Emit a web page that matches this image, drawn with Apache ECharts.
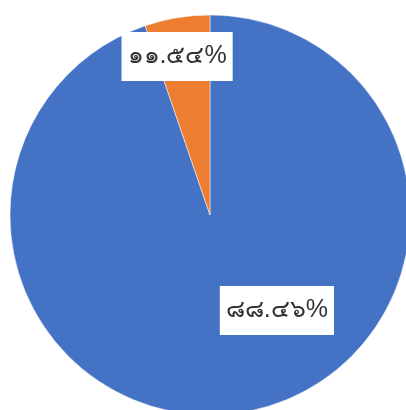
<!DOCTYPE html>
<html>
<head>
<meta charset="utf-8">
<style>
  html, body { margin: 0; padding: 0; background: #fff; }
  #main { width: 406px; height: 410px; }
</style>
<script src="https://cdn.jsdelivr.net/npm/echarts@6/dist/echarts.min.js"></script>
</head>
<body>
<div id="main"></div>
<script>
// slice shares as drawn, and the label texts printed on them
const names = ['A', 'B']
const values = [94.75, 5.25]
const labelTexts = ['๘๘.๔๖%', '๑๑.๕๔%']
const colors = ['#4472C4', '#ED7D31']
const labelOffsets = [[50, -6], [-16, -57]]

const chart = echarts.init(document.getElementById('main'))

const data = values.map((v, i) => ({
    name: names[i],
    value: v,
    itemStyle: { color: colors[i] },
    label: { offset: labelOffsets[i] }
}))

chart.setOption({
    animation: false,
    series: [
        {
            type: 'pie',
            center: [210, 215],
            radius: 200,
            startAngle: 90,
            clockwise: true,
            avoidLabelOverlap: false,
            itemStyle: { borderColor: '#fff', borderWidth: 0.5 },
            label: {
                show: true,
                position: 'inside',
                formatter: p => labelTexts[p.dataIndex],
                fontFamily: 'sans-serif',
                fontWeight: 'lighter',
                fontSize: 25,
                color: '#333',
                backgroundColor: '#fff',
                padding: [12, 6]
            },
            labelLine: { show: false },
            emphasis: { disabled: true },
            data: data
        }
    ]
})
</script>
</body>
</html>
